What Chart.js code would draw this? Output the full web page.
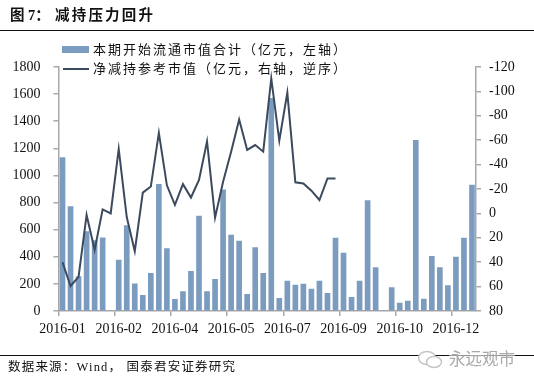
<!DOCTYPE html>
<html>
<head>
<meta charset="utf-8">
<script src="https://cdn.jsdelivr.net/npm/chart.js@4"></script>
<style>
    html, body { margin: 0; padding: 0; background: #fff; }
    #wrap { position: relative; width: 534px; height: 383px; overflow: hidden; font-family: "Liberation Serif", "Noto Sans CJK SC", serif; color: #111; }
    #chart { position: absolute; left: 0; top: 0; }
    .txt { position: absolute; white-space: nowrap; line-height: 1; }
    .rule { position: absolute; left: 0; width: 534px; height: 1px; background: #111; }
    .swatch { position: absolute; }
</style>
</head>
<body>
<div id="wrap">
    <canvas id="chart" width="534" height="383"></canvas>
    <div class="txt" style="left:10px;top:8px;font-size:14.5px;font-weight:bold;white-space:pre">图 7&#xFF1A;<span style="position:absolute;left:45px;top:0;letter-spacing:2.2px">减持压力回升</span></div>
    <div class="rule" style="top:30px"></div>
    <div class="swatch" style="left:62px;top:46px;width:27px;height:7px;background:#7c9cbf"></div>
    <div class="txt" id="leg0" style="left:93px;top:43px;font-size:13px;letter-spacing:2px"></div>
    <div class="swatch" style="left:63px;top:68px;width:26px;height:2px;background:#3c4a5e"></div>
    <div class="txt" id="leg1" style="left:93px;top:62px;font-size:13px;letter-spacing:2px"></div>
    <div class="rule" style="top:355px"></div>
    <div class="txt" style="left:8px;top:361px;font-size:12.5px;letter-spacing:1.2px">数据来源&#xFF1A;Wind&#xFF0C; 国泰君安证券研究</div>
    <svg style="position:absolute;left:417px;top:349px" width="30" height="30" viewBox="0 0 30 30">
        <ellipse cx="10" cy="9" rx="8.5" ry="6.5" fill="#fff" stroke="#c4c4c4" stroke-width="1.4"/>
        <ellipse cx="17" cy="13" rx="7.5" ry="5.5" fill="#fff" stroke="#c4c4c4" stroke-width="1.4"/>
    </svg>
    <div class="txt" style="left:449px;top:350px;font-size:16.5px;color:#aaa;background:rgba(255,255,255,0.55);font-family:'Noto Sans CJK SC'">永远观市</div>
</div>

<script>
// weekly periods, only every 7th one gets a label
const categories = [
    '2016-01', '2016-01', '2016-01', '2016-01', '2016-01',
    '2016-02', '2016-02', '2016-02', '2016-02',
    '2016-03', '2016-03', '2016-03', '2016-03', '2016-03',
    '2016-04', '2016-04', '2016-04', '2016-04',
    '2016-05', '2016-05', '2016-05', '2016-05',
    '2016-06', '2016-06', '2016-06', '2016-06', '2016-06',
    '2016-07', '2016-07', '2016-07', '2016-07',
    '2016-08', '2016-08', '2016-08', '2016-08',
    '2016-09', '2016-09', '2016-09', '2016-09',
    '2016-10', '2016-10', '2016-10', '2016-10', '2016-10',
    '2016-11', '2016-11', '2016-11', '2016-11',
    '2016-12', '2016-12', '2016-12', '2016-12'
];

const floatValue = [
    1131, 770, 253, 585, 520, 540, 0, 376, 630, 200,
    115, 278, 935, 460, 86, 143, 293, 700, 143, 234,
    893, 560, 516, 123, 467, 278, 1569, 93, 221, 192,
    199, 162, 221, 130, 538, 428, 100, 221, 814, 320,
    0, 172, 59, 74, 1259, 88, 403, 320, 187, 398,
    538, 928
];

const netReduction = [
    40, 59.5, 52, 1.3, 30, -3.3, 0, -52.8, 3, 31,
    -17, -22, -66, -23, -7, -24, -13, -27.4, -59, 3.5,
    -26, -50.6, -77, -52, -56, -50.6, -110.7, -59.6, -99, -25.5,
    -24.6, -18.6, -11, -28.7, -28.7, null, null, null, null, null,
    null, null, null, null, null, null, null, null, null, null,
    null, null
];

// fullwidth brackets and commas, as in the reference
const legendLabels = [
    '本期开始流通市值合计\uFF08亿元\uFF0C左轴\uFF09',
    '净减持参考市值\uFF08亿元\uFF0C右轴\uFF0C逆序\uFF09'
];

document.getElementById('leg0').textContent = legendLabels[0];
document.getElementById('leg1').textContent = legendLabels[1];

const axisGrey = '#a8a8a8';
const tickFont = { family: '"Liberation Serif"', size: 14 };

new Chart(document.getElementById('chart'), {
    data: {
        labels: categories,
        datasets: [
            {
                type: 'line',
                label: legendLabels[1],
                data: netReduction,
                yAxisID: 'y1',
                borderColor: '#3c4a5e',
                borderWidth: 2,
                pointRadius: 0,
                tension: 0,
                spanGaps: false,
                order: 1
            },
            {
                type: 'bar',
                label: legendLabels[0],
                data: floatValue,
                yAxisID: 'y',
                backgroundColor: '#7c9cbf',
                barThickness: 5,
                order: 2
            }
        ]
    },
    options: {
        responsive: false,
        animation: false,
        layout: { padding: { top: 67 } },
        plugins: { legend: { display: false }, tooltip: { enabled: false } },
        scales: {
            x: {
                offset: true,
                border: { color: axisGrey, width: 1.5 },
                grid: {
                    offset: true,
                    drawOnChartArea: false,
                    tickLength: 5,
                    tickColor: ctx => (ctx.index % 7 === 0 ? axisGrey : 'rgba(0,0,0,0)'),
                    lineWidth: 1.5
                },
                ticks: {
                    autoSkip: false,
                    maxRotation: 0,
                    padding: 5,
                    color: '#111',
                    font: tickFont,
                    callback: function (val, i) { return i % 7 === 0 ? this.getLabelForValue(val) : ''; }
                },
                afterFit: scale => { scale.height = 72; }
            },
            y: {
                position: 'left',
                min: 0,
                max: 1800,
                border: { color: axisGrey, width: 1.5 },
                grid: { drawOnChartArea: false, tickLength: 5, tickColor: axisGrey, lineWidth: 1.5 },
                ticks: { stepSize: 200, padding: 13, color: '#111', font: tickFont, callback: val => String(val) },
                afterFit: scale => { scale.width = 58.5; }
            },
            y1: {
                position: 'right',
                min: -120,
                max: 80,
                reverse: true,
                border: { color: axisGrey, width: 1.5 },
                grid: { drawOnChartArea: false, tickLength: 5, tickColor: axisGrey, lineWidth: 1.5 },
                ticks: { stepSize: 20, padding: 8, color: '#111', font: tickFont },
                afterFit: scale => { scale.width = 58; }
            }
        }
    }
});
</script>
</body>
</html>
